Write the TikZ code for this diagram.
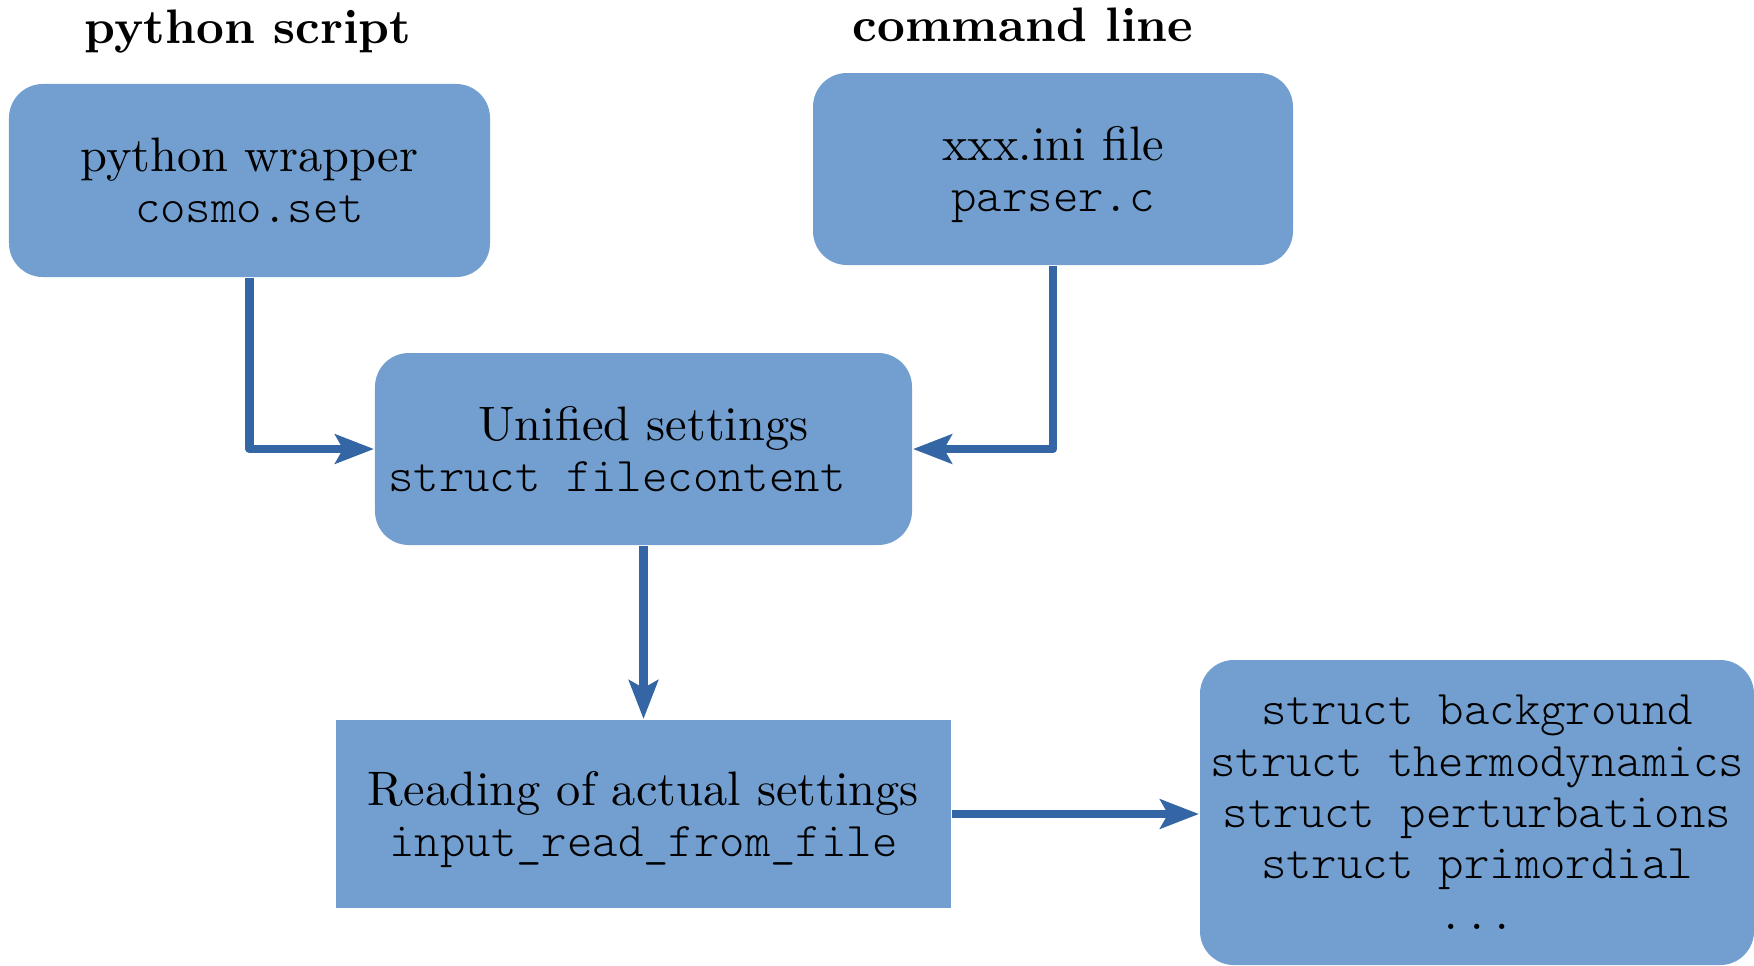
\documentclass[tikz,border=0pt]{standalone}
\usepackage{fontspec}
\setmonofont{lmmonolt10-regular.otf}
\usetikzlibrary{arrows.meta}

\definecolor{boxblue}{HTML}{729FCF}
\definecolor{linkblue}{HTML}{3465A4}

\begin{document}
\begin{tikzpicture}[
  x=0.20661pt, y=-0.20661pt,
  box/.style={fill=boxblue, draw=none, align=center, inner sep=0pt,
    text depth=0pt, font=\fontsize{10}{10.6}\selectfont},
  roundbox/.style={box, rounded corners=7pt},
  title/.style={font=\bfseries, anchor=base, inner sep=0pt},
  link/.style={draw=linkblue, line width=1.8pt, line join=round,
    -{Stealth[length=8pt, width=6pt, inset=1.6pt]}}
]
\useasboundingbox (0,0) rectangle (1754,965);

% section headings
\node[title] (hpy) at (248,43) {python script};
\node[title] (hcl) at (1023,41) {command line};

% input sources
\node[roundbox, minimum width=99.38pt, minimum height=39.88pt] (py) at (249.5,180.5)
  {python wrapper\\\texttt{cosmo.set}};
\node[roundbox, minimum width=99.17pt, minimum height=39.67pt] (cl) at (1053,169)
  {xxx.ini file\\\texttt{parser.c}};

% common settings structure
\node[roundbox, minimum width=110.95pt, minimum height=39.67pt] (uni) at (643.5,449)
  {Unified settings\\\texttt{struct filecontent}\hspace*{11pt}};

% reading step
\node[box, minimum width=127.07pt, minimum height=38.84pt] (rd) at (643.5,814)
  {Reading of actual settings\\\texttt{input\_read\_from\_file}};

% resulting structures
\node[roundbox, minimum width=114.46pt, minimum height=63.02pt] (st) at (1477,812.5)
  {\texttt{struct background}\\\texttt{struct thermodynamics}\\
   \texttt{struct perturbations}\\\texttt{struct primordial}\\\texttt{...}};

% connectors
\draw[link] (py.south) |- (uni.west);
\draw[link] (cl.south) |- (uni.east);
\draw[link] (uni.south) -- (rd.north);
\draw[link] (rd.east) -- (rd.east -| st.west);
\end{tikzpicture}
\end{document}
